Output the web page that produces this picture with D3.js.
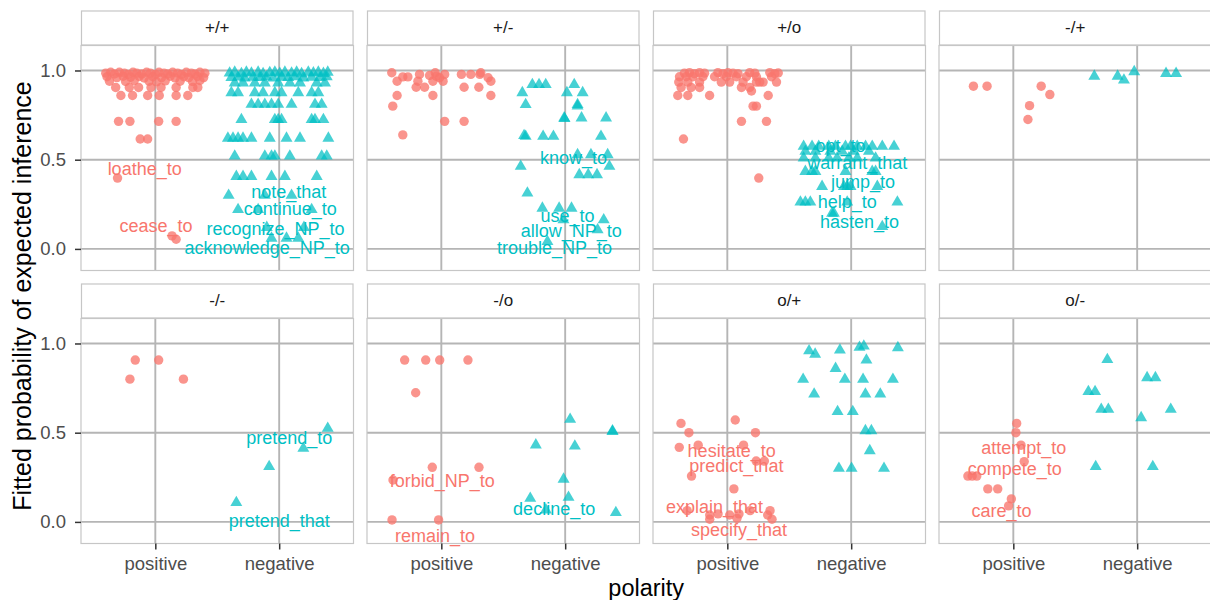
<!DOCTYPE html>
<html>
<head>
<meta charset="utf-8">
<script src="https://cdn.jsdelivr.net/npm/d3@7"></script>
<style>
  body { margin: 0; background: #fff; }
  text { font-family: "Liberation Sans", Arial, Helvetica, sans-serif; }
</style>
</head>
<body>
<svg id="chart"></svg>
<script>
// Facets, categories and ticks
const facets = ["+/+", "+/-", "+/o", "-/+", "-/-", "-/o", "o/+", "o/-"];
const polarities = ["positive", "negative"];
const yTicks = [0, 0.5, 1];

// Points per facet: [jitter offset (in category steps), fitted probability]
const ppPos = [
  [-0.40,0.985],[-0.36,0.99],[-0.33,0.98],[-0.29,0.99],[-0.25,0.985],[-0.22,0.978],[-0.18,0.99],[-0.15,0.985],
  [-0.11,0.98],[-0.07,0.99],[-0.04,0.985],[0.00,0.978],[0.03,0.99],[0.07,0.985],[0.10,0.98],[0.14,0.99],
  [0.18,0.985],[0.21,0.978],[0.25,0.99],[0.29,0.985],[0.32,0.98],[0.36,0.99],[0.40,0.985],
  [-0.39,0.965],[-0.31,0.96],[-0.26,0.968],[-0.20,0.962],[-0.13,0.966],[-0.09,0.958],[-0.02,0.965],[0.05,0.96],
  [0.12,0.968],[0.16,0.958],[0.23,0.965],[0.27,0.96],[0.34,0.966],[0.39,0.96],
  [-0.37,0.94],[-0.24,0.938],[-0.17,0.944],[-0.05,0.94],[0.01,0.936],[0.08,0.942],[0.20,0.94],[0.30,0.938],[0.36,0.944],
  [-0.32,0.905],[-0.21,0.905],[-0.135,0.905],[-0.035,0.905],[0.046,0.905],[0.168,0.905],[0.303,0.905],[0.343,0.905],
  [-0.278,0.86],[-0.184,0.86],[-0.062,0.86],[0.032,0.86],[0.168,0.86],[0.262,0.86],
  [-0.297,0.715],[-0.205,0.715],[0.027,0.715],[0.168,0.715],
  [-0.122,0.616],[-0.062,0.616],
  [-0.305,0.397],
  [0.135,0.073],[0.168,0.054]
];
const ppNeg = [
  [-0.40,0.985],[-0.359,0.99],[-0.305,0.982],[-0.265,0.99],[-0.224,0.985],[-0.17,0.99],[-0.13,0.982],[-0.076,0.988],
  [-0.035,0.99],[0.005,0.984],[0.046,0.99],[0.10,0.985],[0.141,0.99],[0.181,0.982],[0.235,0.99],[0.276,0.986],
  [0.316,0.99],[0.357,0.983],[0.392,0.99],
  [-0.386,0.96],[-0.332,0.963],[-0.278,0.958],[-0.211,0.962],[-0.157,0.96],[-0.103,0.964],[-0.049,0.958],[0.019,0.962],
  [0.073,0.96],[0.127,0.964],[0.195,0.958],[0.262,0.962],[0.33,0.96],[0.384,0.964],
  [-0.359,0.93],[-0.292,0.93],[-0.197,0.93],[-0.116,0.93],[-0.008,0.93],[0.086,0.93],[0.168,0.93],[0.303,0.93],[0.37,0.93],
  [-0.386,0.875],[-0.332,0.875],[-0.197,0.875],[-0.13,0.875],[-0.035,0.875],[0.019,0.875],[0.154,0.875],[0.262,0.875],[0.316,0.875],
  [-0.224,0.81],[-0.17,0.81],[-0.116,0.81],[-0.062,0.81],[-0.008,0.81],[0.10,0.81],[0.289,0.81],[0.343,0.81],
  [-0.305,0.725],[-0.035,0.725],[-0.008,0.725],[0.019,0.725],[0.262,0.725],[0.289,0.725],[0.357,0.725],
  [-0.414,0.62],[-0.373,0.62],[-0.332,0.62],[-0.292,0.62],[-0.224,0.62],[-0.076,0.62],[0.059,0.62],[0.168,0.62],[0.397,0.62],
  [-0.359,0.52],[-0.116,0.52],[-0.062,0.52],[-0.035,0.52],[0.086,0.52],[0.343,0.52],[0.384,0.52],
  [-0.346,0.406],[-0.292,0.406],[-0.224,0.406],[-0.062,0.406],[0.046,0.406],[0.303,0.406],
  [-0.408,0.30],[-0.116,0.30],[0.10,0.30],
  [-0.332,0.22],[-0.17,0.22],[0.262,0.22],
  [-0.10,0.12],[0.20,0.12],
  [-0.062,0.06],[0.059,0.06],[0.154,0.06]
];
const pmPos = [
  [-0.40,0.987],[-0.357,0.94],[-0.311,0.964],[-0.27,0.964],[-0.176,0.978],[-0.189,0.94],[-0.203,0.906],[-0.135,0.906],
  [-0.095,0.972],[-0.068,0.94],[-0.049,0.987],[-0.041,0.968],[-0.014,0.959],[0.014,0.94],[0.027,0.978],[0.162,0.978],
  [0.184,0.906],[0.238,0.978],[0.311,0.978],[0.319,0.987],[0.303,0.906],[0.378,0.959],[0.40,0.94],
  [-0.357,0.86],[-0.068,0.86],[0.40,0.86],[-0.392,0.80],[0.027,0.715],[0.184,0.715],[-0.311,0.639]
];
const pmNeg = [
  [-0.346,0.875],[-0.265,0.921],[-0.211,0.921],[-0.157,0.921],[-0.319,0.809],[0.073,0.921],[0.014,0.875],[0.141,0.875],
  [0.10,0.809],[0.10,0.80],[-0.008,0.734],[-0.005,0.73],[0.132,0.734],[0.33,0.734],[-0.332,0.635],[-0.319,0.631],
  [-0.178,0.631],[-0.095,0.631],[0.289,0.631],[-0.359,0.463],[0.357,0.463],[0.114,0.416],[0.186,0.416],[0.257,0.416],
  [-0.305,0.313],[-0.184,0.228],[-0.049,0.228],[0.051,0.228],[-0.014,0.163],[0.311,0.163],[0.262,0.107],[-0.143,0.041],
  [0.10,0.528],[0.208,0.528],[0.343,0.528]
];
const poPos = [
  [-0.346,0.985],[-0.305,0.988],[-0.265,0.982],[-0.224,0.988],[-0.184,0.985],[-0.076,0.988],[-0.035,0.982],[0.005,0.988],
  [0.046,0.985],[0.086,0.982],[0.181,0.988],[0.222,0.985],[0.343,0.988],[0.384,0.982],[0.411,0.986],
  [-0.386,0.965],[-0.332,0.965],[-0.278,0.965],[-0.197,0.965],[-0.103,0.965],[-0.008,0.965],[0.073,0.965],[0.154,0.965],[0.235,0.965],[0.357,0.965],
  [-0.392,0.935],[-0.319,0.935],[-0.224,0.935],[-0.049,0.935],[0.019,0.935],[0.127,0.935],[0.235,0.935],[0.262,0.935],[0.289,0.935],[0.397,0.935],
  [-0.373,0.905],[-0.292,0.905],[-0.224,0.905],[0.114,0.905],[0.181,0.905],
  [-0.40,0.86],[-0.319,0.86],[-0.143,0.86],[0.33,0.86],[0.195,0.885],
  [0.208,0.80],[0.235,0.80],[0.114,0.715],[0.316,0.715],[-0.354,0.616],[0.254,0.397]
];
const poNeg = [
  [-0.384,0.575],[-0.316,0.575],[-0.262,0.575],[-0.181,0.575],[-0.127,0.575],[-0.046,0.575],[-0.005,0.575],[0.049,0.575],
  [0.116,0.575],[0.17,0.575],[0.251,0.575],[0.346,0.575],
  [-0.37,0.547],[-0.289,0.547],[-0.168,0.547],[-0.073,0.547],[0.022,0.547],[0.143,0.547],
  [-0.384,0.509],[-0.289,0.509],[-0.181,0.509],[-0.114,0.509],[-0.019,0.509],[0.049,0.509],[0.197,0.509],
  [-0.37,0.434],[-0.316,0.434],[-0.289,0.434],[-0.046,0.434],[0.17,0.434],[0.197,0.434],
  [-0.235,0.35],[-0.059,0.35],[-0.032,0.35],[-0.005,0.35],[0.211,0.35],
  [-0.41,0.262],[-0.37,0.262],[-0.33,0.262],[-0.032,0.262],[0.373,0.262],
  [-0.154,0.20],[-0.14,0.20],[0.251,0.125]
];
const mpPos = [[-0.322,0.912],[-0.212,0.912],[0.225,0.912],[0.295,0.865],[0.131,0.803],[0.118,0.725]];
const mpNeg = [[-0.346,0.968],[-0.158,0.968],[-0.107,0.946],[-0.024,0.993],[0.233,0.983],[0.314,0.983]];
const mmPos = [[-0.162,0.907],[0.027,0.907],[-0.205,0.80],[0.227,0.80]];
const mmNeg = [[0.392,0.524],[0.195,0.412],[-0.081,0.31],[-0.346,0.108]];
const moPos = [
  [-0.296,0.907],[-0.126,0.907],[-0.013,0.907],[0.215,0.907],[-0.207,0.724],[-0.073,0.306],[0.304,0.306],
  [-0.39,0.235],[-0.398,0.011],[-0.022,0.011]
];
const moNeg = [
  [0.04,0.575],[0.382,0.506],[0.382,0.51],[-0.237,0.431],[0.078,0.425],[-0.013,0.239],[-0.282,0.132],[0.027,0.138],
  [-0.156,0.067],[0.409,0.052]
];
const opPos = [
  [-0.374,0.552],[-0.31,0.50],[0.064,0.571],[0.227,0.50],[-0.388,0.418],[-0.235,0.43],[0.131,0.43],[0.233,0.341],
  [0.299,0.341],[-0.289,0.257],[0.053,0.185],[-0.324,0.063],[-0.142,0.039],[-0.142,0.015],[-0.075,0.045],[0.019,0.039],
  [0.078,0.02],[0.094,0.045],[0.184,0.063],[0.326,0.039],[0.345,0.063],[0.361,0.015]
];
const opNeg = [
  [-0.34,0.959],[-0.291,0.94],[-0.091,0.963],[0.067,0.978],[0.102,0.985],[0.377,0.976],[0.123,0.907],[-0.126,0.86],
  [-0.388,0.799],[-0.051,0.799],[0.096,0.799],[0.337,0.799],[-0.299,0.716],[0.115,0.716],[0.235,0.716],[-0.11,0.618],
  [0.013,0.618],[0.115,0.511],[0.163,0.511],[0.15,0.399],[-0.099,0.30],[0.003,0.30],[0.265,0.30]
];
const omPos = [
  [0.027,0.552],[0.021,0.50],[0.062,0.43],[0.088,0.338],[-0.367,0.257],[-0.332,0.257],[-0.295,0.257],[-0.206,0.185],
  [-0.126,0.185],[-0.016,0.129],[-0.038,0.09]
];
const omNeg = [
  [-0.241,0.91],[0.08,0.808],[0.147,0.808],[-0.394,0.73],[-0.34,0.73],[-0.29,0.631],[-0.233,0.631],[0.271,0.631],
  [0.032,0.584],[-0.335,0.31],[0.126,0.31]
];

// Text labels: [facet, polarity, text, jitter offset, y]
const labels = [
  ["+/+","positive","loathe_to",-0.086,0.448],
  ["+/+","positive","cease_to",0.005,0.131],
  ["+/+","negative","note_that",0.078,0.322],
  ["+/+","negative","continue_to",0.09,0.225],
  ["+/+","negative","recognize_NP_to",-0.03,0.116],
  ["+/+","negative","acknowledge_NP_to",-0.097,0.004],
  ["+/-","negative","know_to",0.068,0.509],
  ["+/-","negative","use_to",0.019,0.187],
  ["+/-","negative","allow_NP_to",0.049,0.103],
  ["+/-","negative","trouble_NP_to",-0.086,0.009],
  ["+/o","negative","opt_to",-0.086,0.579],
  ["+/o","negative","warrant_that",0.049,0.483],
  ["+/o","negative","jump_to",0.095,0.376],
  ["+/o","negative","help_to",-0.032,0.264],
  ["+/o","negative","hasten_to",0.068,0.152],
  ["-/-","negative","pretend_to",0.081,0.472],
  ["-/-","negative","pretend_that",0.0,0.007],
  ["-/o","positive","forbid_NP_to",0.008,0.231],
  ["-/o","positive","remain_to",-0.051,-0.078],
  ["-/o","negative","decline_to",-0.089,0.076],
  ["o/+","positive","hesitate_to",0.035,0.399],
  ["o/+","positive","predict_that",0.073,0.313],
  ["o/+","positive","explain_that",-0.103,0.086],
  ["o/+","positive","specify_that",0.095,-0.045],
  ["o/-","positive","attempt_to",0.084,0.418],
  ["o/-","positive","compete_to",0.011,0.297],
  ["o/-","positive","care_to",-0.095,0.063]
];

const pointSets = {
  "+/+": [ppPos, ppNeg], "+/-": [pmPos, pmNeg], "+/o": [poPos, poNeg], "-/+": [mpPos, mpNeg],
  "-/-": [mmPos, mmNeg], "-/o": [moPos, moNeg], "o/+": [opPos, opNeg], "o/-": [omPos, omNeg]
};

const colors = { positive: "#F8766D", negative: "#00BFC4" };

const W = 1210, H = 600;
const margin = { left: 81, top: 10.5 };
const panelW = 272.5, panelH = 225, stripH = 35, gapX = 13.5, gapY = 13;

const svg = d3.select("#chart").attr("width", W).attr("height", H);

const xScale = d3.scalePoint().domain(polarities).range([0, panelW]).padding(0.6);
const step = xScale.step();
const yScale = d3.scaleLinear().domain([-0.121, 1.14]).range([panelH, 0]);

const tri = d3.symbol().type(d3.symbolTriangle).size(62);
const gridColor = "#b5b5b5";

facets.forEach((f, i) => {
  const col = i % 4, row = Math.floor(i / 4);
  const gx = margin.left + col * (panelW + gapX);
  const gy = margin.top + row * (stripH + panelH + gapY);
  const g = svg.append("g").attr("transform", `translate(${gx},${gy})`);

  // Strip
  g.append("rect")
    .attr("x", 0.5).attr("y", 0.5)
    .attr("width", panelW - 1).attr("height", stripH - 1)
    .attr("fill", "#fff").attr("stroke", "#c6c6c6").attr("stroke-width", 1.2);
  g.append("text")
    .attr("x", panelW / 2).attr("y", stripH / 2 - 0.5)
    .attr("dy", "0.35em")
    .attr("text-anchor", "middle")
    .attr("font-size", 17)
    .attr("fill", "#1a1a1a")
    .text(f);

  const p = g.append("g").attr("transform", `translate(0,${stripH})`);

  // Grid
  p.selectAll(".hgrid").data(yTicks).join("line")
    .attr("x1", 0).attr("x2", panelW)
    .attr("y1", d => yScale(d)).attr("y2", d => yScale(d))
    .attr("stroke", gridColor).attr("stroke-width", 1.9);
  p.selectAll(".vgrid").data(polarities).join("line")
    .attr("x1", d => xScale(d)).attr("x2", d => xScale(d))
    .attr("y1", 0).attr("y2", panelH)
    .attr("stroke", gridColor).attr("stroke-width", 1.9);

  // Points
  const [pos, neg] = pointSets[f];
  p.selectAll(".pos").data(pos).join("circle")
    .attr("cx", d => xScale("positive") + d[0] * step)
    .attr("cy", d => yScale(d[1]))
    .attr("r", 4.7)
    .attr("fill", colors.positive).attr("fill-opacity", 0.78);
  p.selectAll(".neg").data(neg).join("path")
    .attr("d", tri)
    .attr("transform", d => `translate(${xScale("negative") + d[0] * step},${yScale(d[1])})`)
    .attr("fill", colors.negative).attr("fill-opacity", 0.72);

  // Labels
  p.selectAll(".lab").data(labels.filter(l => l[0] === f)).join("text")
    .attr("x", d => xScale(d[1]) + d[3] * step)
    .attr("y", d => yScale(d[4]))
    .attr("dy", "0.35em")
    .attr("text-anchor", "middle")
    .attr("font-size", 18)
    .attr("fill", d => colors[d[1]])
    .text(d => d[2]);

  // Panel border
  p.append("rect")
    .attr("x", 0).attr("y", 0).attr("width", panelW).attr("height", panelH)
    .attr("fill", "none").attr("stroke", "#c6c6c6").attr("stroke-width", 1.2);

  // Axes
  if (col === 0) {
    const ay = p.append("g")
      .call(d3.axisLeft(yScale).tickValues(yTicks).tickFormat(d3.format(".1f")).tickSize(6).tickPadding(9));
    ay.select(".domain").remove();
    ay.selectAll("line").attr("stroke", "#333").attr("stroke-width", 1.5);
    ay.selectAll("text").attr("font-size", 18.5).attr("fill", "#4d4d4d");
  }
  if (row === 1) {
    const ax = p.append("g").attr("transform", `translate(0,${panelH})`)
      .call(d3.axisBottom(xScale).tickSize(6).tickPadding(7));
    ax.select(".domain").remove();
    ax.selectAll("line").attr("stroke", "#333").attr("stroke-width", 1.5);
    ax.selectAll("text").attr("font-size", 18.5).attr("fill", "#4d4d4d");
  }
});

// Axis titles
const plotLeft = margin.left, plotRight = margin.left + 4 * panelW + 3 * gapX;
const panelsBottom = margin.top + 2 * (stripH + panelH) + gapY;

svg.append("text")
  .attr("x", (plotLeft + plotRight) / 2).attr("y", 588)
  .attr("dy", "0.35em")
  .attr("text-anchor", "middle")
  .attr("font-size", 23.5)
  .attr("fill", "#000")
  .text("polarity");

svg.append("text")
  .attr("transform", `translate(22,296) rotate(-90)`)
  .attr("dy", "0.35em")
  .attr("text-anchor", "middle")
  .attr("font-size", 25)
  .attr("fill", "#000")
  .text("Fitted probability of expected inference");
</script>
</body>
</html>
